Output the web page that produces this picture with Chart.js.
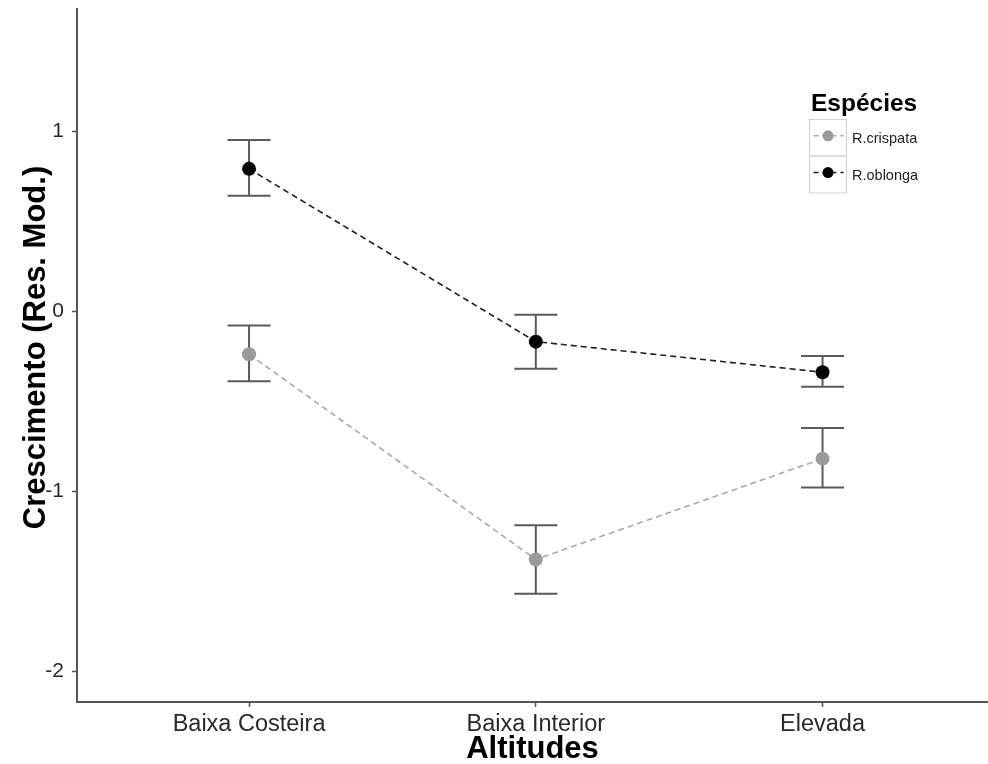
<!DOCTYPE html>
<html>
<head>
<meta charset="utf-8">
<script src="https://cdn.jsdelivr.net/npm/chart.js@4"></script>
<style>
  html, body { margin: 0; padding: 0; background: #fff; overflow: hidden; }
  canvas { display: block; }
</style>
</head>
<body>
<canvas id="c" width="988" height="764"></canvas>
<script>
// Altitude classes on the x axis
const categories = ['Baixa Costeira', 'Baixa Interior', 'Elevada'];

// Species shown in the legend
const seriesNames = ['R.crispata', 'R.oblonga'];
const legendTitle = 'Espécies';

// Axis titles
const xTitle = 'Altitudes';
const yTitle = 'Crescimento (Res. Mod.)';

// Mean growth (model residuals) with lower / upper error limits
const crispataMean = [-0.24, -1.38, -0.82];
const crispataLow  = [-0.39, -1.57, -0.98];
const crispataHigh = [-0.08, -1.19, -0.65];

const oblongaMean = [0.79, -0.17, -0.34];
const oblongaLow  = [0.64, -0.32, -0.42];
const oblongaHigh = [0.95, -0.02, -0.25];

// Axis ticks
const yTicks = [-2, -1, 0, 1];

const FONT = '"Liberation Sans", Arial, Helvetica, sans-serif';
const Y_MIN = -2.172, Y_MAX = 1.678;
const X_MIN = -0.6, X_MAX = 2.577;
const CAP_WIDTH = 0.15; // error bar cap width in category units

const styles = [
  { line: '#a8a8a8', point: '#9a9a9a' },
  { line: '#1e1e1e', point: '#000000' }
];

const toPoints = arr => arr.map((v, i) => ({ x: i, y: v }));
const seriesData = [
  { mean: crispataMean, low: crispataLow, high: crispataHigh },
  { mean: oblongaMean, low: oblongaLow, high: oblongaHigh }
];

// Error bars drawn underneath the lines and points
const errorBars = {
  id: 'errorBars',
  beforeDatasetsDraw(chart) {
    const { ctx, scales: { x, y } } = chart;
    ctx.save();
    ctx.strokeStyle = '#5a5a5a';
    ctx.lineWidth = 2;
    seriesData.forEach(s => {
      s.low.forEach((lo, i) => {
        const px = x.getPixelForValue(i);
        const half = x.getPixelForValue(i + CAP_WIDTH / 2) - px;
        const yl = y.getPixelForValue(lo);
        const yh = y.getPixelForValue(s.high[i]);
        ctx.beginPath();
        ctx.moveTo(px, yl); ctx.lineTo(px, yh);
        ctx.moveTo(px - half, yl); ctx.lineTo(px + half, yl);
        ctx.moveTo(px - half, yh); ctx.lineTo(px + half, yh);
        ctx.stroke();
      });
    });
    ctx.restore();
  }
};

// Rotated y-axis title
const yAxisTitle = {
  id: 'yAxisTitle',
  afterDraw(chart) {
    const ctx = chart.ctx;
    ctx.save();
    ctx.translate(36, 347.5);
    ctx.rotate(-Math.PI / 2);
    ctx.textAlign = 'center';
    ctx.textBaseline = 'middle';
    ctx.fillStyle = '#000';
    ctx.font = 'bold 31px ' + FONT;
    ctx.fillText(yTitle, 0, 0);
    ctx.restore();
  }
};

// Boxed legend with dashed-line + point keys
const speciesLegend = {
  id: 'speciesLegend',
  afterDraw(chart) {
    const ctx = chart.ctx;
    ctx.save();
    ctx.fillStyle = '#000';
    ctx.textBaseline = 'alphabetic';
    ctx.font = 'bold 24.5px ' + FONT;
    ctx.fillText(legendTitle, 811, 111);
    const boxX = 809.5, boxW = 37, rowH = 36.7, top = 119.5;
    seriesNames.forEach((name, k) => {
      const y0 = top + k * rowH;
      ctx.strokeStyle = '#d2d2d2';
      ctx.lineWidth = 1;
      ctx.strokeRect(boxX, y0, boxW, rowH);
      const cy = y0 + rowH / 2 - 2;
      ctx.setLineDash([5, 4]);
      ctx.strokeStyle = styles[k].line;
      ctx.lineWidth = 1.5;
      ctx.beginPath();
      ctx.moveTo(boxX + 4, cy);
      ctx.lineTo(boxX + boxW - 3, cy);
      ctx.stroke();
      ctx.setLineDash([]);
      ctx.fillStyle = styles[k].point;
      ctx.beginPath();
      ctx.arc(boxX + boxW / 2, cy, 5.5, 0, Math.PI * 2);
      ctx.fill();
      ctx.fillStyle = '#222';
      ctx.textBaseline = 'middle';
      ctx.font = '14.5px ' + FONT;
      ctx.fillText(name, 852, y0 + rowH / 2 + 1);
    });
    ctx.restore();
  }
};

new Chart(document.getElementById('c'), {
  type: 'scatter',
  data: {
    datasets: seriesData.map((s, k) => ({
      label: seriesNames[k],
      data: toPoints(s.mean),
      showLine: true,
      borderColor: styles[k].line,
      borderWidth: 1.6,
      borderDash: [6, 4],
      pointBackgroundColor: styles[k].point,
      pointBorderColor: styles[k].point,
      pointBorderWidth: 0,
      pointRadius: 7,
      pointHoverRadius: 7
    }))
  },
  options: {
    responsive: false,
    animation: false,
    layout: { autoPadding: false, padding: { top: 9, right: 0, bottom: 0, left: 0 } },
    plugins: { legend: { display: false }, tooltip: { enabled: false } },
    scales: {
      x: {
        type: 'linear',
        min: X_MIN,
        max: X_MAX,
        afterBuildTicks: s => { s.ticks = categories.map((c, i) => ({ value: i })); },
        afterFit: s => { s.height = 62; s.paddingLeft = 0; s.paddingRight = 0; },
        ticks: {
          callback: v => categories[v],
          autoSkip: false,
          maxRotation: 0,
          padding: 3,
          color: '#2a2a2a',
          font: { family: FONT, size: 23.5 }
        },
        grid: { drawOnChartArea: false, drawTicks: true, tickLength: 5, tickWidth: 1.5, tickColor: '#555' },
        border: { display: true, color: '#555', width: 2 },
        title: {
          display: true,
          text: xTitle,
          color: '#000',
          padding: { top: 0, bottom: -1 },
          font: { family: FONT, size: 31, weight: 'bold', lineHeight: 1 }
        }
      },
      y: {
        type: 'linear',
        min: Y_MIN,
        max: Y_MAX,
        afterBuildTicks: s => { s.ticks = yTicks.map(v => ({ value: v })); },
        afterFit: s => { s.width = 77; s.paddingTop = 0; s.paddingBottom = 0; },
        ticks: {
          padding: 8,
          color: '#2a2a2a',
          font: { family: FONT, size: 21 }
        },
        grid: { drawOnChartArea: false, drawTicks: true, tickLength: 5, tickWidth: 1.5, tickColor: '#555' },
        border: { display: true, color: '#555', width: 2 }
      }
    }
  },
  plugins: [errorBars, yAxisTitle, speciesLegend]
});
</script>
</body>
</html>
